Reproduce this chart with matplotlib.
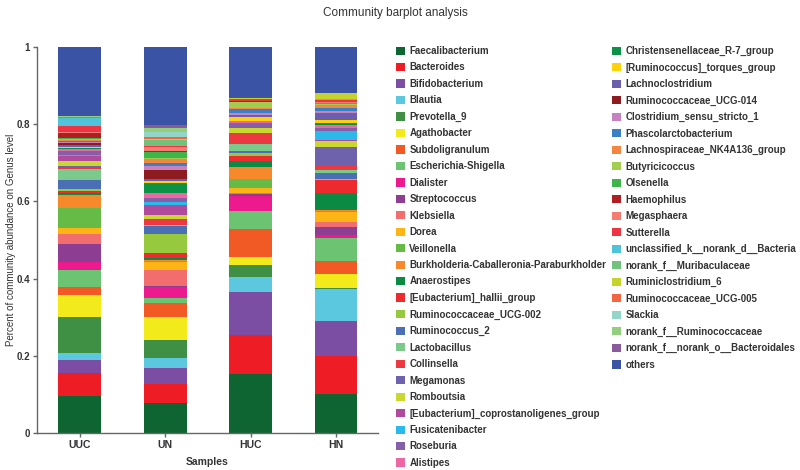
import matplotlib
matplotlib.use("Agg")
import matplotlib.pyplot as plt
from matplotlib.patches import Patch
import numpy as np

plt.rcParams['font.family'] = ['Liberation Sans', 'DejaVu Sans']

samples = ['UUC', 'UN', 'HUC', 'HN']

genera = [
    'Faecalibacterium', 'Bacteroides', 'Bifidobacterium', 'Blautia', 'Prevotella_9',
    'Agathobacter', 'Subdoligranulum', 'Escherichia-Shigella', 'Dialister', 'Streptococcus',
    'Klebsiella', 'Dorea', 'Veillonella', 'Burkholderia-Caballeronia-Paraburkholder',
    'Anaerostipes', '[Eubacterium]_hallii_group', 'Ruminococcaceae_UCG-002', 'Ruminococcus_2',
    'Lactobacillus', 'Collinsella', 'Megamonas', 'Romboutsia',
    '[Eubacterium]_coprostanoligenes_group', 'Fusicatenibacter', 'Roseburia', 'Alistipes',
    'Christensenellaceae_R-7_group', '[Ruminococcus]_torques_group', 'Lachnoclostridium',
    'Ruminococcaceae_UCG-014', 'Clostridium_sensu_stricto_1', 'Phascolarctobacterium',
    'Lachnospiraceae_NK4A136_group', 'Butyricicoccus', 'Olsenella', 'Haemophilus',
    'Megasphaera', 'Sutterella', 'unclassified_k__norank_d__Bacteria',
    'norank_f__Muribaculaceae', 'Ruminiclostridium_6', 'Ruminococcaceae_UCG-005', 'Slackia',
    'norank_f__Ruminococcaceae', 'norank_f__norank_o__Bacteroidales', 'others',
]

# relative abundance per genus, same order as genera
uuc = [0.095, 0.060, 0.034, 0.019, 0.093, 0.056, 0.020, 0.045, 0.022, 0.046,
       0.026, 0.016, 0.050, 0.035, 0.006, 0.005, 0.005, 0.022, 0.030, 0.005,
       0.003, 0.012, 0.013, 0.002, 0.010, 0.005, 0.003, 0.004, 0.004, 0.004,
       0.003, 0.003, 0.003, 0.003, 0.003, 0.012, 0.002, 0.016, 0.020, 0.001,
       0.001, 0.001, 0.001, 0.001, 0.001, 0.182]
un = [0.077, 0.049, 0.042, 0.027, 0.046, 0.059, 0.036, 0.013, 0.028, 0.004,
      0.041, 0.022, 0.002, 0.002, 0.006, 0.013, 0.048, 0.020, 0.004, 0.014,
      0.002, 0.011, 0.025, 0.008, 0.010, 0.014, 0.024, 0.007, 0.003, 0.025,
      0.011, 0.006, 0.011, 0.003, 0.016, 0.002, 0.009, 0.003, 0.003, 0.013,
      0.003, 0.006, 0.013, 0.008, 0.008, 0.203]
huc = [0.153, 0.100, 0.111, 0.041, 0.031, 0.021, 0.071, 0.048, 0.038, 0.005,
       0.002, 0.015, 0.021, 0.033, 0.014, 0.014, 0.007, 0.006, 0.018, 0.027,
       0.002, 0.011, 0.003, 0.002, 0.010, 0.003, 0.002, 0.010, 0.004, 0.002,
       0.003, 0.012, 0.002, 0.015, 0.001, 0.001, 0.001, 0.004, 0.001, 0.001,
       0.001, 0.001, 0.0, 0.0, 0.0, 0.132]
hn = [0.100, 0.100, 0.091, 0.081, 0.003, 0.037, 0.034, 0.058, 0.008, 0.022,
      0.013, 0.026, 0.002, 0.002, 0.044, 0.034, 0.002, 0.016, 0.008, 0.010,
      0.051, 0.015, 0.002, 0.024, 0.006, 0.009, 0.004, 0.009, 0.017, 0.002,
      0.004, 0.007, 0.008, 0.004, 0.002, 0.001, 0.002, 0.004, 0.001, 0.001,
      0.016, 0.001, 0.001, 0.0, 0.0, 0.118]

colors = [
    '#0e6532', '#ee1c25', '#7b4ea3', '#5bc8e0', '#3f8f45', '#f2ea1a', '#f15a24',
    '#6cc371', '#ec1a8d', '#8d3e92', '#f26d6d', '#fdb515', '#65bb45', '#f7892d',
    '#0b8a43', '#ed2b2f', '#96c93d', '#4a6fb5', '#7cc98c', '#ec3840', '#6f62ad',
    '#c9d82e', '#b04a9c', '#2bb8ea', '#8560a8', '#ee67a5', '#0b9247', '#fdd20a',
    '#6b5fad', '#8e1b20', '#c882c0', '#3b7fc6', '#f58642', '#a3cd4f', '#3db549',
    '#b01e23', '#f47c72', '#ee3343', '#4fc3da', '#72c17c', '#c5d32c', '#f26641',
    '#93d5c9', '#92cf7f', '#8b5a9a', '#3a53a4',
]

data = np.array([uuc, un, huc, hn]).T  # genus x sample

fig = plt.figure(figsize=(8, 4.7), dpi=100)
ax = fig.add_axes([37/800, 1-433/470, 341/800, 386/470])

x = np.arange(len(samples))
bottom = np.zeros(len(samples))
for i, g in enumerate(genera):
    ax.bar(x, data[i], bottom=bottom, width=0.5, color=colors[i], linewidth=0)
    bottom += data[i]

ax.set_xlim(-0.5, 3.49)
ax.set_ylim(0, 1)
ax.set_xticks(x)
ax.set_xticklabels(samples, fontsize=7.5, fontweight='bold')
ax.set_yticks([0, 0.2, 0.4, 0.6, 0.8, 1])
ax.set_yticklabels(['0', '0.2', '0.4', '0.6', '0.8', '1'], fontsize=7, fontweight='bold')
for s in ['top', 'right']:
    ax.spines[s].set_visible(False)
for s in ['left', 'bottom']:
    ax.spines[s].set_color('#666666')
    ax.spines[s].set_linewidth(1)
ax.tick_params(colors='#666666', labelcolor='#333333', length=3, width=1, pad=2)
ax.set_xlabel('Samples', fontsize=7.5, fontweight='bold', color='#333333')
ax.xaxis.set_label_coords(0.5, -0.063)
ax.set_ylabel('Percent of community abundance on Genus level', fontsize=7,
              color='#333333')
ax.yaxis.set_label_coords(-0.062, 0.5)

fig.text(0.494, 0.972, 'Community barplot analysis', ha='center', va='center',
         fontsize=8.5, color='#333333')

handles = [Patch(facecolor=c, edgecolor='none') for c in colors]
leg_kw = dict(frameon=False, loc='upper left', labelspacing=0.664,
              handlelength=0.92, handleheight=0.92, handletextpad=0.45,
              borderpad=0, borderaxespad=0, prop={'weight': 'bold', 'size': 7.0})
l1 = fig.legend(handles[:26], genera[:26], bbox_to_anchor=(396/800, 1-46/470), **leg_kw)
l2 = fig.legend(handles[26:], genera[26:], bbox_to_anchor=(612/800, 1-46/470), **leg_kw)
for leg in (l1, l2):
    for t in leg.get_texts():
        t.set_color('#333333')

fig.savefig('out.png', dpi=100)
